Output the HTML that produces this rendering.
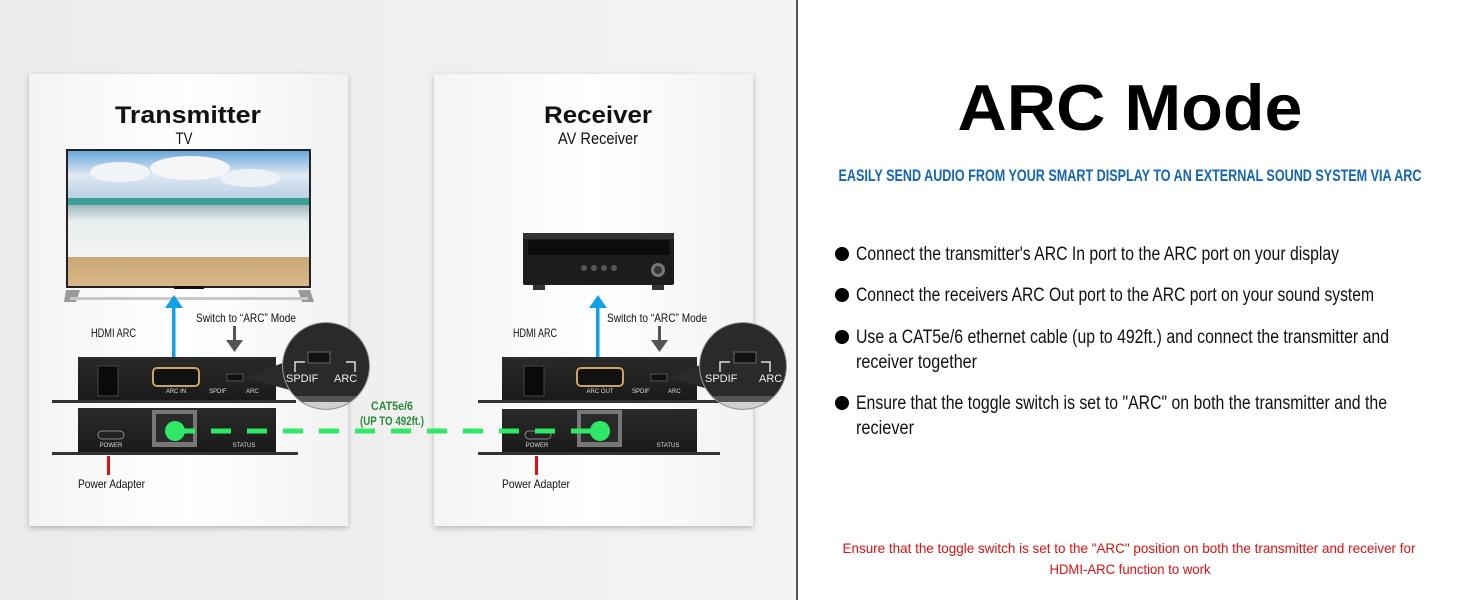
<!DOCTYPE html>
<html><head><meta charset="utf-8"><style>
html,body{margin:0;padding:0;background:#fff}
svg{display:block}
text{font-family:"Liberation Sans",sans-serif}
</style></head><body>
<svg width="1464" height="600" viewBox="0 0 1464 600" xmlns="http://www.w3.org/2000/svg">
<defs>
<linearGradient id="bg" x1="0" x2="1"><stop offset="0" stop-color="#ececec"/><stop offset="1" stop-color="#f3f3f3"/></linearGradient>
<linearGradient id="card" x1="0" x2="1"><stop offset="0" stop-color="#f4f4f4"/><stop offset="0.5" stop-color="#ffffff"/><stop offset="1" stop-color="#f2f2f2"/></linearGradient>
<linearGradient id="sky" x1="0" y1="0" x2="0" y2="1"><stop offset="0" stop-color="#6aa8dc"/><stop offset="0.5" stop-color="#dfe9f2"/><stop offset="1" stop-color="#b9d1e6"/></linearGradient>
<linearGradient id="foam" x1="0" y1="0" x2="0" y2="1"><stop offset="0" stop-color="#9fb9bd"/><stop offset="0.3" stop-color="#e8eeee"/><stop offset="1" stop-color="#f4f4f2"/></linearGradient>
<linearGradient id="sand" x1="0" y1="0" x2="0" y2="1"><stop offset="0" stop-color="#c9a877"/><stop offset="1" stop-color="#d9b887"/></linearGradient>
<linearGradient id="dev" x1="0" y1="0" x2="0" y2="1"><stop offset="0" stop-color="#2a2a2a"/><stop offset="1" stop-color="#1a1a1a"/></linearGradient>
<filter id="sh" x="-10%" y="-10%" width="120%" height="120%"><feDropShadow dx="0" dy="2" stdDeviation="3" flood-color="#000" flood-opacity="0.25"/></filter>
<clipPath id="c1"><circle cx="326" cy="366" r="43"/></clipPath>
<clipPath id="c2"><circle cx="743" cy="366" r="43"/></clipPath>
</defs>
<rect x="0" y="0" width="796" height="600" fill="url(#bg)"/>
<rect x="796" y="0" width="2" height="600" fill="#555"/>
<rect x="29" y="74" width="319" height="452" fill="url(#card)" filter="url(#sh)"/>
<rect x="434" y="74" width="319" height="452" fill="url(#card)" filter="url(#sh)"/>

<!-- Card titles -->
<text x="188" y="123" text-anchor="middle" font-size="24" font-weight="bold" fill="#111" textLength="146" lengthAdjust="spacingAndGlyphs">Transmitter</text>
<text x="184" y="144" text-anchor="middle" font-size="17" fill="#111" textLength="17" lengthAdjust="spacingAndGlyphs">TV</text>
<text x="598" y="123" text-anchor="middle" font-size="24" font-weight="bold" fill="#111" textLength="108" lengthAdjust="spacingAndGlyphs">Receiver</text>
<text x="598" y="144" text-anchor="middle" font-size="17" fill="#111" textLength="80" lengthAdjust="spacingAndGlyphs">AV Receiver</text>

<!-- TV -->
<rect x="66" y="149" width="245" height="139" fill="#222"/>
<rect x="68" y="151" width="241" height="48" fill="url(#sky)"/>
<ellipse cx="120" cy="172" rx="30" ry="10" fill="#f2f5f8"/><ellipse cx="190" cy="168" rx="40" ry="12" fill="#f4f6f8"/><ellipse cx="250" cy="178" rx="30" ry="9" fill="#eef2f6"/>
<rect x="68" y="198" width="241" height="7" fill="#3e9e9a"/>
<rect x="68" y="205" width="241" height="54" fill="url(#foam)"/>
<rect x="68" y="257" width="241" height="29" fill="url(#sand)"/>
<rect x="174" y="286" width="30" height="3" fill="#111"/>
<path d="M66 290 L80 290 L76 302 L64 302 Z M298 290 L310 290 L314 302 L302 302 Z" fill="#9a9a9a"/>
<rect x="70" y="297" width="238" height="3" fill="#c8c8c8"/>

<!-- AV receiver -->
<rect x="523" y="233" width="151" height="52" rx="2" fill="#1c1c1c"/>
<rect x="523" y="233" width="151" height="6" fill="#333"/>
<rect x="528" y="240" width="141" height="15" fill="#0c0c0c"/>
<circle cx="584" cy="268" r="3" fill="#555"/><circle cx="594" cy="268" r="3" fill="#555"/><circle cx="604" cy="268" r="3" fill="#555"/><circle cx="614" cy="268" r="3" fill="#555"/>
<circle cx="658" cy="270" r="7" fill="#777"/><circle cx="658" cy="270" r="4" fill="#333"/>
<rect x="533" y="285" width="12" height="5" fill="#333"/><rect x="652" y="285" width="12" height="5" fill="#333"/>

<!-- blue arrows -->
<rect x="172" y="306" width="3.5" height="52" fill="#10a0e6"/>
<path d="M165 308 L174 295 L183 308 Z" fill="#10a0e6"/>
<rect x="596" y="306" width="3.5" height="52" fill="#10a0e6"/>
<path d="M589 308 L598 295 L607 308 Z" fill="#10a0e6"/>

<!-- labels -->
<text x="91" y="337" font-size="12" fill="#111" textLength="45" lengthAdjust="spacingAndGlyphs">HDMI ARC</text>
<text x="196" y="322" font-size="12" fill="#111" textLength="100" lengthAdjust="spacingAndGlyphs">Switch to “ARC” Mode</text>
<text x="513" y="337" font-size="12" fill="#111" textLength="44" lengthAdjust="spacingAndGlyphs">HDMI ARC</text>
<text x="607" y="322" font-size="12" fill="#111" textLength="100" lengthAdjust="spacingAndGlyphs">Switch to “ARC” Mode</text>
<rect x="233" y="326" width="3" height="14" fill="#555"/><path d="M226 340 L243 340 L234.5 352 Z" fill="#555"/>
<rect x="658" y="326" width="3" height="14" fill="#555"/><path d="M651 340 L668 340 L659.5 352 Z" fill="#555"/>

<!-- Transmitter device -->
<rect x="78" y="357" width="198" height="43" fill="url(#dev)"/>
<rect x="52" y="400" width="244" height="3" fill="#333"/>
<rect x="98" y="366" width="20" height="30" fill="#0a0a0a" stroke="#444"/>
<rect x="153" y="368" width="46" height="18" rx="4" fill="#111" stroke="#c9a560" stroke-width="2"/>
<text x="176" y="393" text-anchor="middle" font-size="6" fill="#ddd">ARC IN</text>
<rect x="227" y="374" width="16" height="7" fill="#111" stroke="#555"/>
<text x="209" y="393" font-size="6" fill="#ddd">SPDIF</text><text x="246" y="393" font-size="6" fill="#ddd">ARC</text>
<rect x="78" y="408" width="198" height="44" fill="url(#dev)"/>
<rect x="52" y="452" width="246" height="3" fill="#333"/>
<rect x="98" y="431" width="26" height="8" rx="4" fill="#222" stroke="#888"/>
<text x="111" y="447" text-anchor="middle" font-size="6" fill="#ddd">POWER</text>
<rect x="152" y="410" width="45" height="37" fill="#777"/><rect x="156" y="414" width="37" height="28" fill="#2a2a2a"/>
<text x="244" y="447" text-anchor="middle" font-size="6" fill="#ddd">STATUS</text>
<rect x="107" y="456" width="3" height="19" fill="#e01010"/>
<text x="78" y="488" font-size="12" fill="#111" textLength="67" lengthAdjust="spacingAndGlyphs">Power Adapter</text>

<!-- Receiver device -->
<rect x="502" y="357" width="195" height="43" fill="url(#dev)"/>
<rect x="478" y="400" width="242" height="3" fill="#333"/>
<rect x="524" y="366" width="20" height="30" fill="#0a0a0a" stroke="#444"/>
<rect x="577" y="368" width="46" height="18" rx="4" fill="#111" stroke="#c9a560" stroke-width="2"/>
<text x="600" y="393" text-anchor="middle" font-size="6" fill="#ddd">ARC OUT</text>
<rect x="651" y="374" width="16" height="7" fill="#111" stroke="#555"/>
<text x="632" y="393" font-size="6" fill="#ddd">SPDIF</text><text x="668" y="393" font-size="6" fill="#ddd">ARC</text>
<rect x="502" y="409" width="195" height="43" fill="url(#dev)"/>
<rect x="478" y="452" width="242" height="3" fill="#333"/>
<rect x="525" y="431" width="26" height="8" rx="4" fill="#222" stroke="#888"/>
<text x="537" y="447" text-anchor="middle" font-size="6" fill="#ddd">POWER</text>
<rect x="577" y="410" width="45" height="37" fill="#777"/><rect x="581" y="414" width="37" height="28" fill="#2a2a2a"/>
<text x="668" y="447" text-anchor="middle" font-size="6" fill="#ddd">STATUS</text>
<rect x="535" y="456" width="3" height="19" fill="#e01010"/>
<text x="502" y="488" font-size="12" fill="#111" textLength="68" lengthAdjust="spacingAndGlyphs">Power Adapter</text>

<!-- zoom circles -->
<g>
<path d="M245 378 L290 360 L290 390 Z" fill="#2a2a2a"/>
<circle cx="326" cy="366" r="44" fill="#999"/>
<g clip-path="url(#c1)">
<rect x="280" y="320" width="92" height="92" fill="#2a2a2a"/>
<rect x="280" y="396" width="92" height="6" fill="#555"/>
<rect x="280" y="402" width="92" height="12" fill="#cfcfcf"/>
</g>
<rect x="308" y="352" width="22" height="11" fill="#111" stroke="#666"/>
<path d="M295 372 L295 362 L305 362 M346 362 L355 362 L355 372" stroke="#ddd" fill="none" stroke-width="1.5"/>
<text x="286" y="382" font-size="11" fill="#eee">SPDIF</text><text x="334" y="382" font-size="11" fill="#eee">ARC</text>
</g>
<g>
<path d="M669 378 L712 360 L712 390 Z" fill="#2a2a2a"/>
<circle cx="743" cy="366" r="44" fill="#999"/>
<g clip-path="url(#c2)">
<rect x="697" y="320" width="92" height="92" fill="#2a2a2a"/>
<rect x="697" y="396" width="92" height="6" fill="#555"/>
<rect x="697" y="402" width="92" height="12" fill="#cfcfcf"/>
</g>
<rect x="734" y="352" width="22" height="11" fill="#111" stroke="#666"/>
<path d="M720 372 L720 362 L730 362 M761 362 L770 362 L770 372" stroke="#ddd" fill="none" stroke-width="1.5"/>
<text x="705" y="382" font-size="11" fill="#eee">SPDIF</text><text x="759" y="382" font-size="11" fill="#eee">ARC</text>
</g>

<!-- CAT label -->
<text x="392" y="410" text-anchor="middle" font-size="12" font-weight="bold" fill="#2a8a3a" textLength="42" lengthAdjust="spacingAndGlyphs">CAT5e/6</text>
<text x="392" y="425" text-anchor="middle" font-size="12" font-weight="bold" fill="#2a8a3a" textLength="64" lengthAdjust="spacingAndGlyphs">(UP TO 492ft.)</text>

<!-- green dashed -->
<line x1="175" y1="431" x2="600" y2="431" stroke="#2ee866" stroke-width="5" stroke-dasharray="20 16"/>
<circle cx="175" cy="431" r="10" fill="#2ee866"/>
<circle cx="600" cy="431" r="10" fill="#2ee866"/>

<!-- Right panel -->
<text x="1130" y="130" text-anchor="middle" font-size="65" font-weight="bold" fill="#000" textLength="345" lengthAdjust="spacingAndGlyphs">ARC Mode</text>
<text x="1130" y="181" text-anchor="middle" font-size="17" fill="#1466b3" font-weight="bold" textLength="583" lengthAdjust="spacingAndGlyphs">EASILY SEND AUDIO FROM YOUR SMART DISPLAY TO AN EXTERNAL SOUND SYSTEM VIA ARC</text>
<g font-size="19" fill="#111">
<circle cx="842" cy="254" r="7" fill="#000"/>
<text x="856" y="260" textLength="483" lengthAdjust="spacingAndGlyphs">Connect the transmitter's ARC In port to the ARC port on your display</text>
<circle cx="842" cy="295" r="7" fill="#000"/>
<text x="856" y="301" textLength="518" lengthAdjust="spacingAndGlyphs">Connect the receivers ARC Out port to the ARC port on your sound system</text>
<circle cx="842" cy="337" r="7" fill="#000"/>
<text x="856" y="343" textLength="533" lengthAdjust="spacingAndGlyphs">Use a CAT5e/6 ethernet cable (up to 492ft.) and connect the transmitter and</text>
<text x="856" y="368" textLength="121" lengthAdjust="spacingAndGlyphs">receiver together</text>
<circle cx="842" cy="403" r="7" fill="#000"/>
<text x="856" y="409" textLength="531" lengthAdjust="spacingAndGlyphs">Ensure that the toggle switch is set to "ARC" on both the transmitter and the</text>
<text x="856" y="434" textLength="58" lengthAdjust="spacingAndGlyphs">reciever</text>
</g>
<text x="1129" y="553" text-anchor="middle" font-size="14" fill="#e01010" textLength="573" lengthAdjust="spacingAndGlyphs">Ensure that the toggle switch is set to the "ARC" position on both the transmitter and receiver for</text>
<text x="1130" y="574" text-anchor="middle" font-size="14" fill="#e01010" textLength="161" lengthAdjust="spacingAndGlyphs">HDMI-ARC function to work</text>
</svg>
</body></html>
